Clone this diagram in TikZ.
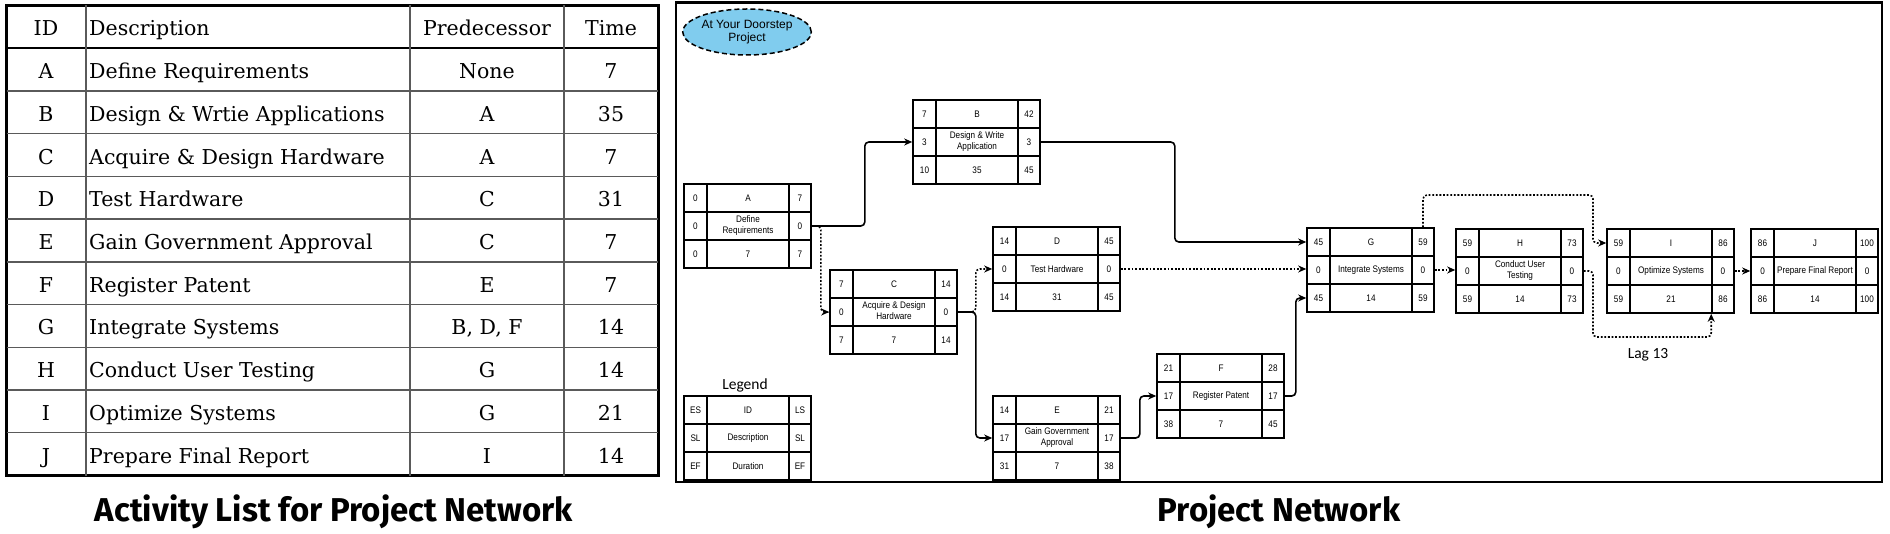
\documentclass[tikz,border=0pt]{standalone}
\usepackage{fontspec}
\setmainfont{Liberation Sans}
\newfontfamily\boxfont[FakeStretch=0.86]{Liberation Sans}
\newfontfamily\tabfont{DejaVu Serif}
\newfontfamily\notefont{Carlito}
\newfontfamily\titlefont{Fira Sans}
\usetikzlibrary{matrix,shapes.geometric,arrows.meta}
\definecolor{skyfill}{RGB}{128,204,238}
\definecolor{gridgray}{RGB}{90,90,90}
\newcommand{\two}[2]{\begin{tabular}{@{}c@{}}#1\\#2\end{tabular}}

\tikzset{
  act/.style={matrix of nodes, anchor=north west, inner sep=0pt,
    column sep=-1.6pt, row sep=-1.6pt,
    nodes={draw, line width=1.6pt, inner sep=0pt, anchor=center, minimum height=28pt,
      font=\boxfont\fontsize{9.5}{10.5}\selectfont},
    column 1/.style={nodes={minimum width=23pt}},
    column 2/.style={nodes={minimum width=82pt}},
    column 3/.style={nodes={minimum width=22pt}}},
  conn/.style={line width=1.6pt, rounded corners=4pt, -{Stealth[length=8pt,width=7pt,inset=2.5pt]}},
  lag/.style={conn, dash pattern=on 1.8pt off 1.8pt},
  tabtext/.style={font=\tabfont\fontsize{20.5}{24}\selectfont, inner sep=0pt, text height=20pt, text depth=2pt},
  title/.style={font=\titlefont\bfseries\fontsize{33}{38}\selectfont},
  note/.style={font=\notefont\fontsize{15.5}{18}\selectfont}
}

\begin{document}
\begin{tikzpicture}[x=1pt, y=-1pt]
\useasboundingbox (0,0) rectangle (1890,534);

% activity list
\draw[line width=3pt] (6.5,5.5) rectangle (658,475.5);
\draw[line width=2.4pt] (6.5,48.2) -- (658,48.2);
\foreach \k in {2,...,10}
  \draw[gridgray, line width=1.3pt] (6.5,{5.5+42.73*\k}) -- (658,{5.5+42.73*\k});
\foreach \cx in {86,410,564}
  \draw[gridgray, line width=1.3pt] (\cx,5.5) -- (\cx,475.5);
\node[tabtext] (hid) at (46,27) {ID};
\node[tabtext, anchor=west] (hdesc) at (89,27) {Description};
\node[tabtext] (hpred) at (487,27) {Predecessor};
\node[tabtext] (htime) at (611,27) {Time};
\foreach \id/\desc/\pred/\time [count=\r] in {A/Define Requirements/None/7,
    B/Design \& Wrtie Applications/A/35, C/Acquire \& Design Hardware/A/7,
    D/Test Hardware/C/31, E/Gain Government Approval/C/7, F/Register Patent/E/7,
    G/Integrate Systems/{B, D, F}/14, H/Conduct User Testing/G/14,
    I/Optimize Systems/G/21, J/Prepare Final Report/I/14} {
  \node[tabtext] (id\r) at (46,{5.5+42.73*(\r+0.5)}) {\id};
  \node[tabtext, anchor=west] (desc\r) at (89,{5.5+42.73*(\r+0.5)}) {\desc};
  \node[tabtext] (pred\r) at (487,{5.5+42.73*(\r+0.5)}) {\pred};
  \node[tabtext] (time\r) at (611,{5.5+42.73*(\r+0.5)}) {\time};
}
\node[title] (listtitle) at (334,512) {Activity List for Project Network};

% project network
\draw[line width=2.5pt] (676,2.5) rectangle (1882,482);
\node[ellipse, draw, dash pattern=on 5pt off 3pt, line width=1.5pt, fill=skyfill,
  minimum width=127pt, minimum height=46pt, inner sep=0pt, align=center,
  font=\fontsize{12}{13}\selectfont] (proj) at (747,32) {At Your Doorstep\\Project};

\matrix (A) [act] at (683,183) {0 & A & 7\\ 0 & \two{Define}{Requirements} & 0\\ 0 & 7 & 7\\};
\matrix (B) [act] at (912,99) {7 & B & 42\\ 3 & \two{Design \& Write}{Application} & 3\\ 10 & 35 & 45\\};
\matrix (C) [act] at (829,269) {7 & C & 14\\ 0 & \two{Acquire \& Design}{Hardware} & 0\\ 7 & 7 & 14\\};
\matrix (D) [act] at (992,226) {14 & D & 45\\ 0 & Test Hardware & 0\\ 14 & 31 & 45\\};
\matrix (E) [act] at (992,395) {14 & E & 21\\ 17 & \two{Gain Government}{Approval} & 17\\ 31 & 7 & 38\\};
\matrix (F) [act] at (1156,353) {21 & F & 28\\ 17 & Register Patent & 17\\ 38 & 7 & 45\\};
\matrix (G) [act] at (1306,227) {45 & G & 59\\ 0 & Integrate Systems & 0\\ 45 & 14 & 59\\};
\matrix (H) [act] at (1455,228) {59 & H & 73\\ 0 & \two{Conduct User}{Testing} & 0\\ 59 & 14 & 73\\};
\matrix (I) [act] at (1606,228) {59 & I & 86\\ 0 & Optimize Systems & 0\\ 59 & 21 & 86\\};
\matrix (J) [act] at (1750,228) {86 & J & 100\\ 0 & Prepare Final Report & 0\\ 86 & 14 & 100\\};

% legend
\node[note] (legendtitle) at (745,385) {Legend};
\matrix (L) [act] at (683,395) {ES & ID & LS\\ SL & Description & SL\\ EF & Duration & EF\\};

% connectors
\draw[conn] (A-2-3.east) -- ++(53,0) |- (B-2-1.west);
\draw[lag] (A-2-3.east) -- ++(9,0) |- (C-2-1.west);
\draw[conn] (B-2-3.east) -- ++(134,0) |- (G-1-1.west);
\draw[lag] (C-2-3.east) -- ++(18,0) |- (D-2-1.west);
\draw[conn] (C-2-3.east) -- ++(18,0) |- (E-2-1.west);
\draw[lag] (D-2-3.east) -- (D-2-3.east -| G-2-1.west);
\draw[conn] (E-2-3.east) -- ++(19,0) |- (F-2-1.west);
\draw[conn] (F-2-3.east) -- ++(11,0) |- (G-3-1.west);
\draw[lag] (G-2-3.east) -- (G-2-3.east -| H-2-1.west);
\coordinate (gi) at (1593,195);
\draw[lag] (G-1-3.north) |- (gi) |- (I-1-1.west);
\coordinate (hi) at (1593,337);
\draw[lag] (H-2-3.east) -| (hi) -| (I-3-3.south west);
\draw[lag] (I-2-3.east) -- (J-2-1.west);
\node[note] (lagtext) at (1648,355) {Lag 13};

\node[title] (nettitle) at (1279,512) {Project Network};
\end{tikzpicture}
\end{document}
